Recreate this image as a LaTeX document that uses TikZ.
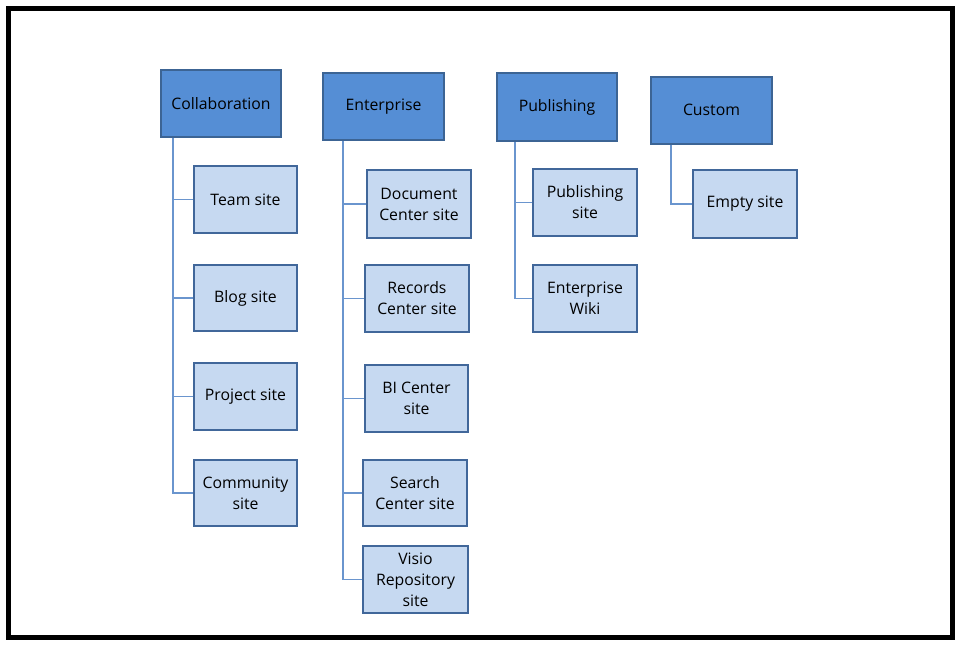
\documentclass[tikz,border=0pt]{standalone}
\usepackage{fontspec}
\setmainfont{Open Sans}
\definecolor{parentfill}{HTML}{558ED5}
\definecolor{parentline}{HTML}{3C6494}
\definecolor{childfill}{HTML}{C6D9F1}
\definecolor{childline}{HTML}{41679A}
\definecolor{linkline}{HTML}{6A95CE}
\tikzset{
  parentbox/.style={draw=parentline, fill=parentfill, line width=2pt, rectangle, inner sep=0pt, align=center, font=\fontsize{15.8}{21}\selectfont, text=black},
  childbox/.style={draw=childline, fill=childfill, line width=2pt, rectangle, inner sep=0pt, align=center, font=\fontsize{15.8}{21}\selectfont, text=black, minimum width=104pt, minimum height=67pt},
  link/.style={draw=linkline, line width=1.2pt}
}
\begin{document}
\begin{tikzpicture}[x=1pt,y=-1pt]
\useasboundingbox (0,0) rectangle (960,645);
\draw[line width=5pt, black] (8.5,8.5) rectangle (952.5,637.5);
% parents
\node[parentbox, minimum width=120pt, minimum height=67pt] (collab) at (221,103.5) {Collaboration};
\node[parentbox, minimum width=121pt, minimum height=67pt] (enter) at (383.5,106.5) {Enterprise};
\node[parentbox, minimum width=120pt, minimum height=68pt] (publ) at (557,107) {Publishing};
\node[parentbox, minimum width=121pt, minimum height=67pt] (custom) at (711.5,110) {Custom};
% collaboration children
\node[childbox, minimum width=103pt] (team) at (245.5,199.5) {Team site};
\node[childbox, minimum width=103pt, minimum height=66pt] (blog) at (245.5,298) {Blog site};
\node[childbox, minimum width=103pt] (project) at (245.5,396.5) {Project site};
\node[childbox, minimum width=103pt, minimum height=66pt] (community) at (245.5,493) {Community\\site};
% enterprise children
\node[childbox, minimum height=68pt] (doc) at (419,204) {Document\\Center site};
\node[childbox] (records) at (417,298.5) {Records\\Center site};
\node[childbox, minimum width=103pt] (bi) at (416.5,398.5) {BI Center\\site};
\node[childbox, minimum height=66pt] (search) at (415,493) {Search\\Center site};
\node[childbox, minimum width=105pt] (visio) at (415.5,579.5) {Visio\\Repository\\site};
% publishing children
\node[childbox] (pubsite) at (585,202.5) {Publishing\\site};
\node[childbox] (wiki) at (585,298.5) {Enterprise\\Wiki};
% custom children
\node[childbox, minimum height=68pt] (empty) at (745,204) {Empty site};
% connectors
\foreach \c in {team,blog,project,community}
  \draw[link] ([xshift=13pt]collab.south west) |- (\c.west);
\foreach \c in {doc,records,bi,search,visio}
  \draw[link] ([xshift=21pt]enter.south west) |- (\c.west);
\foreach \c in {pubsite,wiki}
  \draw[link] ([xshift=19pt]publ.south west) |- (\c.west);
\draw[link] ([xshift=21pt]custom.south west) |- (empty.west);
\end{tikzpicture}
\end{document}
